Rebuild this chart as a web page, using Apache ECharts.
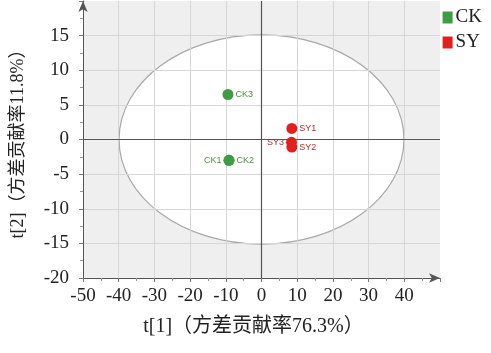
<!DOCTYPE html>
<html>
<head>
<meta charset="utf-8">
<script src="https://cdn.jsdelivr.net/npm/echarts@6/dist/echarts.min.js"></script>
<style>
html,body{margin:0;padding:0;background:#fff;}
#c{width:491px;height:353px;}
</style>
</head>
<body>
<div id="c"></div>
<script>
// ---- data ----
var seriesNames = ['CK', 'SY'];
var ckNames = ['CK3', 'CK1', 'CK2'];
var ckX = [-9.4, -9.1, -9.1];
var ckY = [6.5, -3.0, -3.0];
var syNames = ['SY1', 'SY3', 'SY2'];
var syX = [8.5, 8.4, 8.5];
var syY = [1.6, -0.4, -1.1];
var ellipseCenter = [0, 0];
var ellipseRadius = [39.9, 15.1];
var xTicks = [-50, -40, -30, -20, -10, 0, 10, 20, 30, 40];
var yTicks = [-20, -15, -10, -5, 0, 5, 10, 15];
var xName = 't[1]（方差贡献率76.3%）';
var yName = 't[2]（方差贡献率11.8%）';

// ---- styles ----
var labelSide = {CK3: 'right', CK1: 'left', CK2: 'right', SY1: 'right', SY3: 'left', SY2: 'right'};
var serif = '"Liberation Serif","Noto Sans CJK SC",serif';
var colors = {CK: '#3f9c45', SY: '#e0201e'};
var labelColors = {CK: '#4b8f3c', SY: '#a8322a'};

function pts(names, xs, ys) {
  return names.map(function (n, i) {
    return {
      name: n,
      value: [xs[i], ys[i]],
      label: {position: labelSide[n]}
    };
  });
}

var chart = echarts.init(document.getElementById('c'), null, {renderer: 'canvas'});
var axisLineStyle = {color: '#555', width: 1};
var option = {
  animation: false,
  backgroundColor: '#ffffff',
  grid: {left: 83, right: 51, top: 1, bottom: 75, show: false},
  legend: {
    orient: 'vertical',
    right: 4,
    top: 3,
    itemWidth: 10,
    itemHeight: 12,
    itemGap: 6,
    icon: 'rect',
    textStyle: {fontFamily: serif, fontSize: 19, color: '#222', padding: [0, 0, 0, -2]},
    data: seriesNames
  },
  xAxis: {
    type: 'value',
    min: -50, max: 50, interval: 10,
    name: xName,
    nameLocation: 'middle',
    nameGap: 39,
    nameTextStyle: {fontFamily: serif, fontSize: 20, color: '#222', padding: [0, 16, 0, 0]},
    axisLine: {show: true, onZero: false, lineStyle: axisLineStyle, symbol: ['none', 'arrow'], symbolSize: [7, 11]},
    axisTick: {show: true, length: 4, lineStyle: {color: '#777'}},
    minorTick: {show: true, splitNumber: 2, length: 3, lineStyle: {color: '#999'}},
    axisLabel: {
      fontFamily: serif, fontSize: 19, color: '#222', margin: 9,
      showMaxLabel: false,
      formatter: function (v) { return xTicks.indexOf(v) >= 0 ? String(v) : ''; }
    },
    splitLine: {show: true, showMinLine: false, showMaxLine: false, lineStyle: {color: '#d6d6d6', width: 1}}
  },
  yAxis: {
    type: 'value',
    min: -20, max: 20, interval: 5,
    name: yName,
    nameLocation: 'middle',
    nameGap: 56,
    nameTextStyle: {fontFamily: serif, fontSize: 18, color: '#222'},
    axisLine: {show: true, onZero: false, lineStyle: axisLineStyle, symbol: ['none', 'arrow'], symbolSize: [7, 11]},
    axisTick: {show: true, length: 4, lineStyle: {color: '#777'}},
    minorTick: {show: true, splitNumber: 2, length: 3, lineStyle: {color: '#999'}},
    axisLabel: {
      fontFamily: serif, fontSize: 19, color: '#222', margin: 14,
      showMaxLabel: false,
      formatter: function (v) { return yTicks.indexOf(v) >= 0 ? String(v) : ''; }
    },
    splitLine: {show: true, showMinLine: false, showMaxLine: false, lineStyle: {color: '#d6d6d6', width: 1}}
  },
  series: [
    {
      type: 'custom',
      name: 'ellipse',
      z: -1,
      silent: true,
      legendHoverLink: false,
      data: [[ellipseCenter[0], ellipseCenter[1], ellipseRadius[0], ellipseRadius[1]]],
      renderItem: function (params, api) {
        var cs = params.coordSys;
        var c = api.coord([api.value(0), api.value(1)]);
        var ex = api.coord([api.value(0) + api.value(2), api.value(1)]);
        var ey = api.coord([api.value(0), api.value(1) + api.value(3)]);
        return {
          type: 'group',
          children: [
            {type: 'rect', shape: {x: cs.x, y: cs.y, width: cs.width, height: cs.height}, style: {fill: '#efefef'}},
            {type: 'ellipse', shape: {cx: c[0], cy: c[1], rx: Math.abs(ex[0] - c[0]), ry: Math.abs(c[1] - ey[1])},
              style: {fill: '#ffffff', stroke: '#a8a8a8', lineWidth: 1.2}}
          ]
        };
      }
    },
    {
      type: 'line',
      name: 'zero',
      z: 1,
      data: [],
      silent: true,
      markLine: {
        silent: true,
        symbol: ['none', 'none'],
        label: {show: false},
        lineStyle: {color: '#555', width: 1.2, type: 'solid'},
        data: [{xAxis: 0}, {yAxis: 0}]
      }
    },
    {
      type: 'scatter',
      name: 'CK',
      z: 3,
      symbol: 'circle',
      symbolSize: 11,
      itemStyle: {color: colors.CK, opacity: 1},
      label: {show: true, formatter: '{b}', fontFamily: '"Liberation Sans",Arial,sans-serif', fontSize: 9, color: labelColors.CK, distance: 2},
      data: pts(ckNames, ckX, ckY)
    },
    {
      type: 'scatter',
      name: 'SY',
      z: 3,
      symbol: 'circle',
      symbolSize: 11,
      itemStyle: {color: colors.SY, opacity: 1},
      label: {show: true, formatter: '{b}', fontFamily: '"Liberation Sans",Arial,sans-serif', fontSize: 9, color: labelColors.SY, distance: 2},
      data: pts(syNames, syX, syY)
    }
  ]
};
chart.setOption(option);
</script>
</body>
</html>
